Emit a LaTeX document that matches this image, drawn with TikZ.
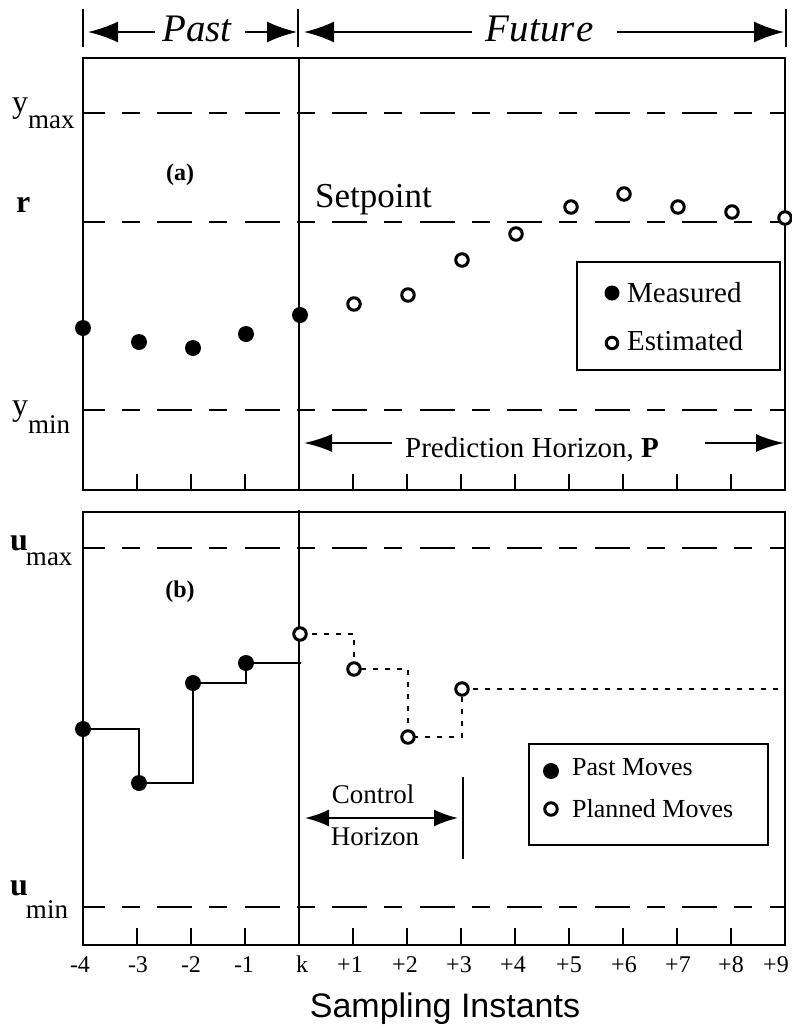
\documentclass[tikz,border=0pt]{standalone}
\usepackage{fontspec}
\setmainfont{Liberation Serif}
\newfontfamily\sansfont{Liberation Sans}
\usetikzlibrary{arrows.meta}
\begin{document}
\begin{tikzpicture}[x=1pt,y=-1pt,
  frame/.style={line width=2pt},
  limit/.style={line width=2pt, dash pattern=on 35pt off 17pt on 18pt off 17.5pt, dash phase=13.5pt},
  plan/.style={line width=1.5pt, dash pattern=on 5pt off 7pt},
  pastline/.style={line width=2pt},
  tickmark/.style={line width=2pt},
  meas/.style={circle, fill=black, inner sep=0pt, minimum size=16pt},
  est/.style={circle, draw=black, fill=white, line width=3pt, inner sep=0pt, minimum size=12.5pt},
  bigarrow/.style={line width=2pt, -{Latex[length=30pt,width=21pt]}},
  midarrow/.style={line width=2pt, -{Latex[length=28pt,width=18pt]}},
  smallarrow/.style={line width=2pt, {Latex[length=24pt,width=17pt]}-{Latex[length=24pt,width=17pt]}},
  timetext/.style={font=\fontsize{39}{39}\selectfont\itshape, inner sep=0pt, anchor=base},
  axlabel/.style={inner sep=0pt, anchor=base west},
  ticklabel/.style={font=\fontsize{24}{24}\selectfont, inner sep=0pt, anchor=base},
  legtext/.style={font=\fontsize{29}{29}\selectfont, inner sep=0pt, anchor=base west},
  legtextb/.style={font=\fontsize{26}{26}\selectfont, inner sep=0pt, anchor=base west},
  plainlabel/.style={inner sep=0pt, anchor=base},
  panel/.style={font=\fontsize{24}{24}\selectfont\bfseries, inner sep=0pt}
]
\useasboundingbox (0,0) rectangle (792,1026);

% ---------- Past / Future header ----------
\draw[frame] (83,9) -- (83,47);
\draw[frame] (298,9) -- (298,47);
\draw[frame] (786,9) -- (786,47);
\node[timetext] (past) at (197,41) {Past};
\node[timetext] (future) at (540,41) {Futur\kern2pt e};
\coordinate (pastLs) at (155,32);  \coordinate (pastLt) at (88,32);
\coordinate (pastRs) at (245,32);  \coordinate (pastRt) at (297,32);
\coordinate (futLs) at (472,32);   \coordinate (futLt) at (304,32);
\coordinate (futRs) at (617,32);   \coordinate (futRt) at (784,32);
\draw[bigarrow] (pastLs) -- (pastLt);
\draw[bigarrow] (pastRs) -- (pastRt);
\draw[bigarrow] (futLs) -- (futLt);
\draw[bigarrow] (futRs) -- (futRt);

% ---------- frames ----------
\draw[frame] (83,58) rectangle (785,490);
\draw[frame] (83,512) rectangle (785,945);
\draw[frame] (299,58) -- (299,490);
\draw[frame] (299,510) -- (299,945);

% limit lines
\draw[limit] (83,113) -- (785,113);
\draw[limit] (83,222) -- (785,222);
\draw[limit] (83,410) -- (785,410);
\draw[limit] (83,548) -- (785,548);
\draw[limit] (83,907) -- (785,907);

% ticks
\foreach \i in {-3,-2,-1,1,2,3,4,5,6,7,8}{
  \draw[tickmark] ({299+54*\i},474) -- ({299+54*\i},490);
  \draw[tickmark] ({299+54*\i},928) -- ({299+54*\i},945);
}

% tick labels
\node[ticklabel] (tm4) at (80,972) {-4};
\node[ticklabel] (tm3) at (138,972) {-3};
\node[ticklabel] (tm2) at (191,972) {-2};
\node[ticklabel] (tm1) at (244,972) {-1};
\node[ticklabel] (tk) at (302,972) {k};
\node[ticklabel] (tp1) at (350,972) {+1};
\node[ticklabel] (tp2) at (405,972) {+2};
\node[ticklabel] (tp3) at (459,972) {+3};
\node[ticklabel] (tp4) at (513,972) {+4};
\node[ticklabel] (tp5) at (569,972) {+5};
\node[ticklabel] (tp6) at (624,972) {+6};
\node[ticklabel] (tp7) at (678,972) {+7};
\node[ticklabel] (tp8) at (731,972) {+8};
\node[ticklabel] (tp9) at (776,972) {+9};
\node[inner sep=0pt, anchor=base, font=\fontsize{34}{34}\selectfont\sansfont] (xlab) at (445,1017) {Sampling Instants};

% axis labels
\node[axlabel] (lymax) at (12,112) {\fontsize{32}{32}\selectfont y\raisebox{-16pt}{\fontsize{27}{27}\selectfont max}};
\node[axlabel] (lr) at (16,212) {\fontsize{32}{32}\selectfont\bfseries r};
\node[axlabel] (lymin) at (12,415) {\fontsize{32}{32}\selectfont y\raisebox{-18pt}{\fontsize{27}{27}\selectfont min}};
\node[axlabel] (lumax) at (10,550) {\fontsize{32}{32}\selectfont\bfseries u\kern-2pt\raisebox{-15pt}{\fontsize{27}{27}\selectfont\mdseries max}};
\node[axlabel] (lumin) at (10,895) {\fontsize{32}{32}\selectfont\bfseries u\kern-2pt\raisebox{-23pt}{\fontsize{27}{27}\selectfont\mdseries min}};

% panel labels
\node[panel] (pa) at (180,175) {(a)};
\node[panel] (pb) at (180,592) {(b)};
\node[plainlabel, anchor=base west, font=\fontsize{35}{35}\selectfont] (setp) at (315,207) {Setpoint};

% prediction horizon
\node[plainlabel, font=\fontsize{29}{29}\selectfont] (predh) at (532,457) {Prediction Horizon, \textbf{P}};
\coordinate (phLs) at (392,443); \coordinate (phLt) at (304,443);
\coordinate (phRs) at (705,443); \coordinate (phRt) at (784,443);
\draw[midarrow] (phLs) -- (phLt);
\draw[midarrow] (phRs) -- (phRt);

% ---------- panel (a) data ----------
\node[meas] (m4) at (83,328) {};
\node[meas] (m3) at (139,342) {};
\node[meas] (m2) at (193,348) {};
\node[meas] (m1) at (246,334) {};
\node[meas] (m0) at (300,315) {};
\node[est] (e1) at (354,304) {};
\node[est] (e2) at (408,295) {};
\node[est] (e3) at (462,260) {};
\node[est] (e4) at (516,234) {};
\node[est] (e5) at (571,207) {};
\node[est] (e6) at (624,194) {};
\node[est] (e7) at (678,207) {};
\node[est] (e8) at (732,212) {};
\node[est] (e9) at (785,218) {};

% legend (a)
\draw[frame] (577,262) rectangle (780,370);
\node[meas, minimum size=15pt] (lgm) at (612,293) {};
\node[est, minimum size=11.5pt] (lge) at (612,343) {};
\node[legtext] (lgmt) at (627,302) {Measured};
\node[legtext] (lget) at (627,350) {Estimated};

% ---------- panel (b) data ----------
\coordinate (pm4) at (83,729);
\coordinate (pm3) at (139,783);
\coordinate (pm2) at (193,683);
\coordinate (pm1) at (246,663);
\coordinate (pmend) at (301,663);
\draw[pastline] (pm4) -| (pm3) -| (pm2) -| (pm1) -- (pmend);
\coordinate (pk) at (300,634);
\coordinate (pp1) at (354,669);
\coordinate (pp2) at (408,737);
\coordinate (pp3) at (462,689);
\coordinate (ppend) at (785,689);
\draw[plan] (pk) -| (pp1) -| (pp2) -| (pp3) -- (ppend);
\node[meas] (bm4) at (pm4) {};
\node[meas] (bm3) at (pm3) {};
\node[meas] (bm2) at (pm2) {};
\node[meas] (bm1) at (pm1) {};
\node[est] (bp0) at (pk) {};
\node[est] (bp1) at (pp1) {};
\node[est] (bp2) at (pp2) {};
\node[est] (bp3) at (pp3) {};

% control horizon
\node[plainlabel, font=\fontsize{27}{27}\selectfont] (ctrl) at (373,803) {Control};
\node[plainlabel, font=\fontsize{27}{27}\selectfont] (hor) at (375,845) {Horizon};
\coordinate (chL) at (305,818); \coordinate (chR) at (458,818);
\draw[smallarrow] (chL) -- (chR);
\coordinate (cbT) at (463,777); \coordinate (cbB) at (463,859);
\draw[frame] (cbT) -- (cbB);

% legend (b)
\draw[frame] (529,744) rectangle (768,845);
\node[meas] (lbm) at (551,771) {};
\node[est] (lbe) at (551,809) {};
\node[legtextb] (lbmt) at (572,775) {Past Moves};
\node[legtextb] (lbet) at (572,817) {Planned Moves};
\end{tikzpicture}
\end{document}
